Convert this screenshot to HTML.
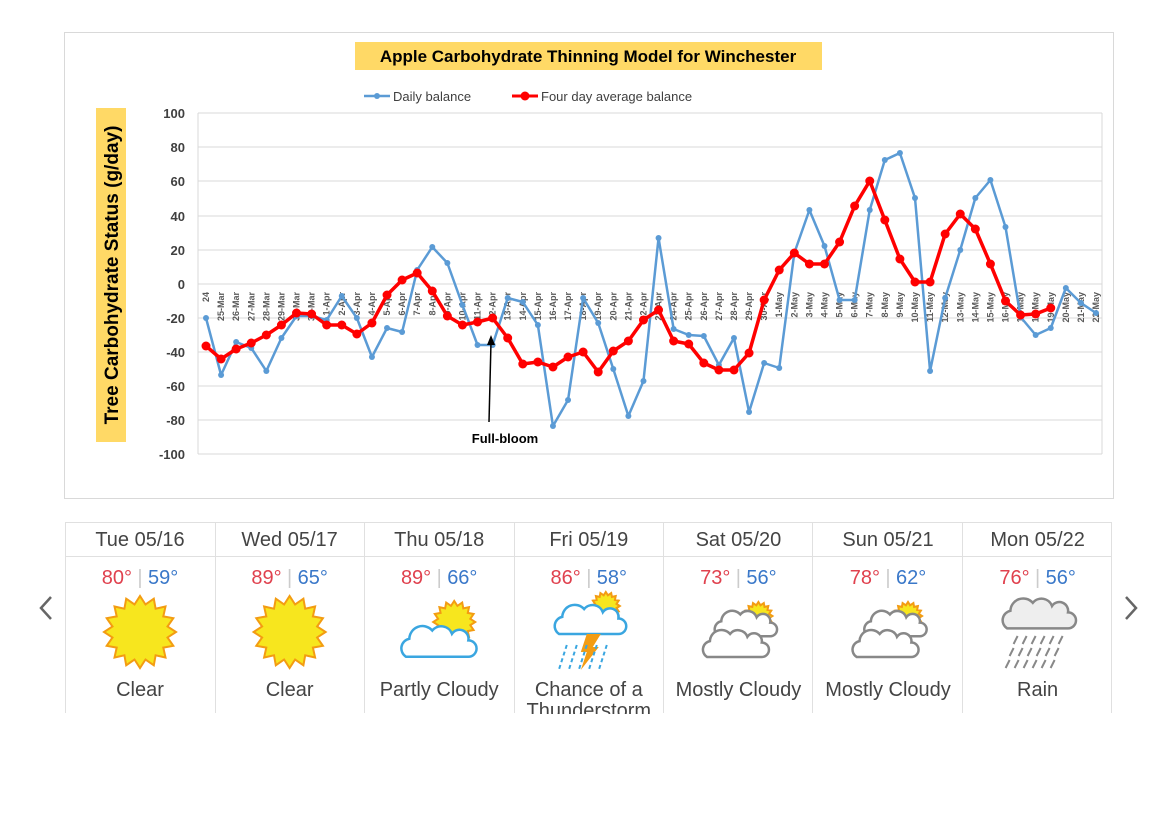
<!DOCTYPE html>
<html><head><meta charset="utf-8"><style>
body{margin:0;background:#fff;width:1160px;height:818px;overflow:hidden;font-family:"Liberation Sans",sans-serif}
</style></head><body>
<svg width="1160" height="818" xmlns="http://www.w3.org/2000/svg" font-family="Liberation Sans, sans-serif">
<rect x="64.5" y="32.5" width="1049" height="466" fill="#fff" stroke="#d9d9d9"/>
<rect x="355" y="42" width="467" height="28" fill="#ffd966"/>
<text x="588" y="62" text-anchor="middle" font-size="17" font-weight="bold" fill="#000">Apple Carbohydrate Thinning Model for Winchester</text>
<line x1="364" y1="96" x2="390" y2="96" stroke="#5b9bd5" stroke-width="2.5"/><circle cx="377" cy="96" r="3" fill="#5b9bd5"/>
<text x="393" y="101" font-size="13" fill="#404040">Daily balance</text>
<line x1="512" y1="96" x2="538" y2="96" stroke="#f00" stroke-width="3"/><circle cx="525" cy="96" r="4.5" fill="#f00"/>
<text x="541" y="101" font-size="13" fill="#404040">Four day average balance</text>
<rect x="96" y="108" width="30" height="334" fill="#ffd966"/>
<text transform="translate(118,275) rotate(-90)" text-anchor="middle" font-size="19" font-weight="bold" fill="#000">Tree Carbohydrate Status (g/day)</text>
<g stroke="#d9d9d9" stroke-width="1">
<line x1="198" y1="113" x2="1102" y2="113"/><line x1="198" y1="147" x2="1102" y2="147"/><line x1="198" y1="181" x2="1102" y2="181"/><line x1="198" y1="216" x2="1102" y2="216"/><line x1="198" y1="250" x2="1102" y2="250"/><line x1="198" y1="284" x2="1102" y2="284"/><line x1="198" y1="318" x2="1102" y2="318"/><line x1="198" y1="352" x2="1102" y2="352"/><line x1="198" y1="386" x2="1102" y2="386"/><line x1="198" y1="420" x2="1102" y2="420"/><line x1="198" y1="454" x2="1102" y2="454"/>
<line x1="198" y1="113" x2="198" y2="454"/><line x1="1102" y1="113" x2="1102" y2="454"/>
</g>
<g font-size="13" font-weight="bold" fill="#404040" text-anchor="end">
<text x="185" y="118">100</text><text x="185" y="152">80</text><text x="185" y="186">60</text><text x="185" y="221">40</text><text x="185" y="255">20</text><text x="185" y="289">0</text><text x="185" y="323">-20</text><text x="185" y="357">-40</text><text x="185" y="391">-60</text><text x="185" y="425">-80</text><text x="185" y="459">-100</text>
</g>
<g id="xl" font-size="9" font-weight="bold" fill="#595959" text-anchor="end"></g>
<polyline id="blue" fill="none" stroke="#5b9bd5" stroke-width="2.5" stroke-linejoin="round"/>
<g id="bdots" fill="#5b9bd5"></g>
<polyline id="red" fill="none" stroke="#f00" stroke-width="3.5" stroke-linejoin="round"/>
<g id="rdots" fill="#f00"></g>
<line x1="489" y1="422" x2="491" y2="342" stroke="#000" stroke-width="1.5"/>
<polygon points="491,335 487,345 495,345" fill="#000"/>
<text x="505" y="443" text-anchor="middle" font-size="13" font-weight="bold" fill="#000">Full-bloom</text>

<g stroke="#e0e0e0" fill="none">
<line x1="65" y1="522.5" x2="1112" y2="522.5"/><line x1="65" y1="556.5" x2="1112" y2="556.5"/>
<line x1="65.5" y1="522" x2="65.5" y2="713"/><line x1="215.5" y1="522" x2="215.5" y2="713"/><line x1="364.5" y1="522" x2="364.5" y2="713"/><line x1="514.5" y1="522" x2="514.5" y2="713"/><line x1="663.5" y1="522" x2="663.5" y2="713"/><line x1="812.5" y1="522" x2="812.5" y2="713"/><line x1="962.5" y1="522" x2="962.5" y2="713"/><line x1="1111.5" y1="522" x2="1111.5" y2="713"/>
</g>
<polyline points="51,597 41,608 51,619" fill="none" stroke="#666" stroke-width="2.5"/>
<polyline points="1126,597 1136,608 1126,619" fill="none" stroke="#666" stroke-width="2.5"/>
<g id="wx" font-size="20"></g>
</svg>
<script>
var labels=["24"];
var d=new Date(2017,2,25);var mn=["Mar","Apr","May"];
for(var i=1;i<60;i++){labels.push(d.getDate()+"-"+mn[d.getMonth()-2]);d.setDate(d.getDate()+1);}
var B=[318,375,342,348,371,338,316,316,320,296,318,357,328,332,270,247,263,305,345,345,298,302,325,426,400,298,323,369,416,381,238,329,335,336,365,338,412,363,368,253,210,246,300,300,210,160,153,198,371,298,250,198,180,227,317,335,328,288,303,313];
var R=[346,359,349,343,335,325,313,314,325,325,334,323,295,280,273,291,316,325,322,318,338,364,362,367,357,352,372,351,341,320,310,341,344,363,370,370,353,300,270,253,264,264,242,206,181,220,259,282,282,234,214,229,264,301,315,314,308];
function X(i){return 206+i*15.085;}
var ns="http://www.w3.org/2000/svg";
var xl=document.getElementById("xl");
labels.forEach(function(l,i){var t=document.createElementNS(ns,"text");t.setAttribute("transform","translate("+(X(i)+3)+",292) rotate(-90)");t.textContent=l;xl.appendChild(t);});
function draw(arr,pl,g,r){var p=[];arr.forEach(function(y,i){p.push(X(i)+","+y);var c=document.createElementNS(ns,"circle");c.setAttribute("cx",X(i));c.setAttribute("cy",y);c.setAttribute("r",r);document.getElementById(g).appendChild(c);});document.getElementById(pl).setAttribute("points",p.join(" "));}
draw(B,"blue","bdots",3);draw(R,"red","rdots",4.5);
var W=[["Tue 05/16","80","59","Clear","sun"],["Wed 05/17","89","65","Clear","sun"],["Thu 05/18","89","66","Partly Cloudy","pc"],["Fri 05/19","86","58","Chance of a|Thunderstorm","ts"],["Sat 05/20","73","56","Mostly Cloudy","mc"],["Sun 05/21","78","62","Mostly Cloudy","mc"],["Mon 05/22","76","56","Rain","rain"]];
var h="";
function sun(cx,cy,r){var p=[];for(var k=0;k<32;k++){var a=k*Math.PI/16,rr=k%2?r*0.78:r;p.push((cx+rr*Math.cos(a)).toFixed(1)+","+(cy+rr*Math.sin(a)).toFixed(1));}return '<polygon points="'+p.join(" ")+'" fill="#f7e61e" stroke="#f39c12" stroke-width="2"/>';}
function cloud(cx,cy,s,fill,stroke){return '<g transform="translate('+cx+','+cy+') scale('+s+')"><path d="M-38,18 a12,12 0 0 1 4,-22 a16,16 0 0 1 28,-10 a14,14 0 0 1 24,4 a11,11 0 0 1 20,8 a10,10 0 0 1 0,20 z" fill="'+fill+'" stroke="'+stroke+'" stroke-width="'+(2.5/s)+'"/></g>';}
W.forEach(function(w,i){var cx=65+i*149.6+75;
h+='<text x="'+cx+'" y="546" text-anchor="middle" fill="#444">'+w[0]+'</text>';
h+='<text x="'+(cx-8)+'" y="584" text-anchor="end" fill="#e0414e">'+w[1]+'°</text><text x="'+cx+'" y="584" text-anchor="middle" fill="#ccc">|</text><text x="'+(cx+8)+'" y="584" fill="#3a78c9">'+w[2]+'°</text>';
if(w[4]=="sun")h+=sun(cx,632,36);
if(w[4]=="pc"){h+=sun(cx+15,622,21);h+=cloud(cx-2,642,0.82,"#fff","#3aa6e0");}
if(w[4]=="ts"){h+=sun(cx+17,606,14);h+=cloud(cx,620,0.78,"#fff","#3aa6e0");h+='<polygon points="'+(cx-2)+',634 '+(cx+12)+',634 '+(cx+4)+',647 '+(cx+10)+',647 '+(cx-8)+',670 '+(cx-2)+',652 '+(cx-8)+',652" fill="#f39c12"/>';for(var k=0;k<5;k++)h+='<line x1="'+(cx-22+k*10)+'" y1="645" x2="'+(cx-30+k*10)+'" y2="670" stroke="#3aa6e0" stroke-width="2" stroke-dasharray="4,3"/>';}
if(w[4]=="mc"){h+=sun(cx+20,616,14);h+=cloud(cx+6,624,0.68,"#fff","#888");h+=cloud(cx-4,644,0.72,"#fff","#888");}
if(w[4]=="rain"){h+=cloud(cx,614,0.8,"#eee","#888");for(var k=0;k<6;k++)for(var j=0;j<3;j++)h+='<line x1="'+(cx-20+k*9-j*4)+'" y1="'+(636+j*12)+'" x2="'+(cx-24+k*9-j*4)+'" y2="'+(644+j*12)+'" stroke="#888" stroke-width="2"/>';}
var lines=w[3].split("|");lines.forEach(function(l,j){h+='<text x="'+cx+'" y="'+(696+j*21)+'" text-anchor="middle" fill="#444">'+l+'</text>';});
});
h+='<rect x="0" y="714" width="1160" height="104" fill="#fff"/>';
document.getElementById("wx").innerHTML=h;
</script>
</body></html>
